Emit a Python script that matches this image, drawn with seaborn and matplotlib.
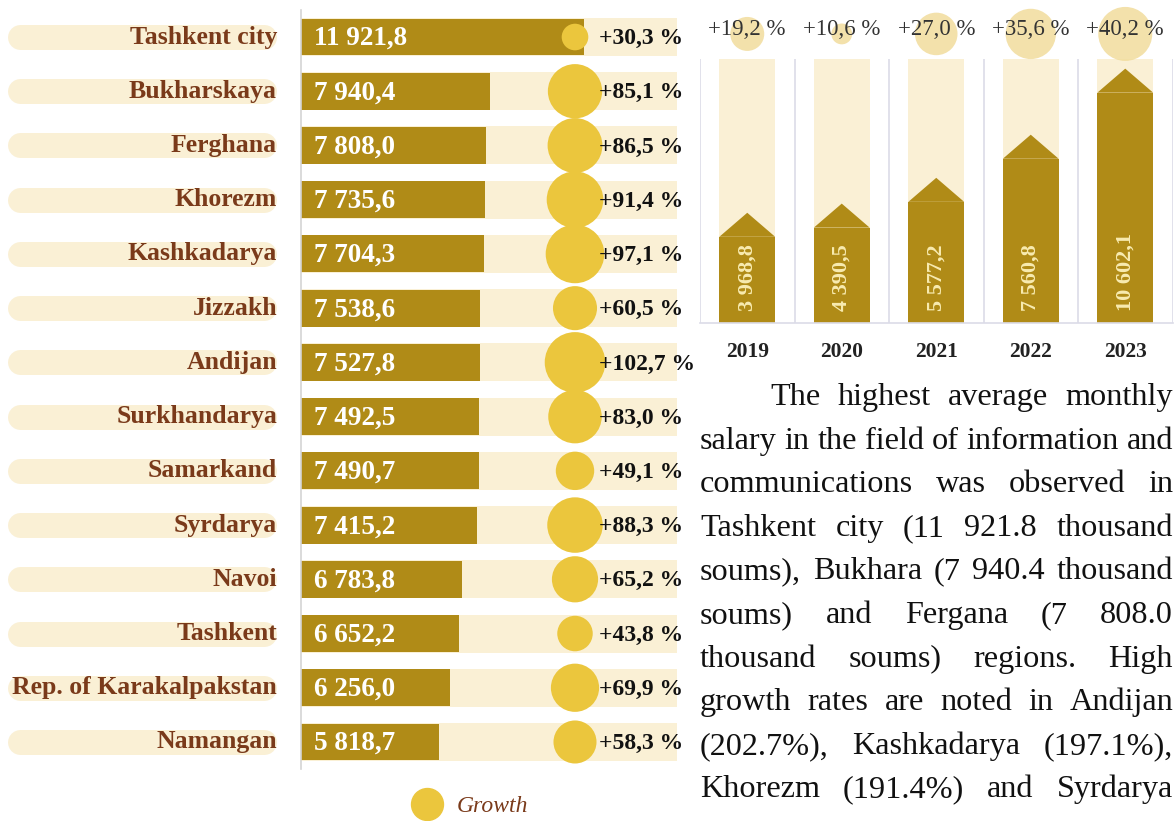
import numpy as np
import matplotlib
matplotlib.use("Agg")
import matplotlib.pyplot as plt
from matplotlib.lines import Line2D
from matplotlib.patches import Polygon
import seaborn as sns

# ---- data -------------------------------------------------------------
regions = ["Tashkent city", "Bukharskaya", "Ferghana", "Khorezm", "Kashkadarya",
           "Jizzakh", "Andijan", "Surkhandarya", "Samarkand", "Syrdarya",
           "Navoi", "Tashkent", "Rep. of Karakalpakstan", "Namangan"]
salary = [11921.8, 7940.4, 7808.0, 7735.6, 7704.3, 7538.6, 7527.8,
          7492.5, 7490.7, 7415.2, 6783.8, 6652.2, 6256.0, 5818.7]
growth = [30.3, 85.1, 86.5, 91.4, 97.1, 60.5, 102.7,
          83.0, 49.1, 88.3, 65.2, 43.8, 69.9, 58.3]

years = ["2019", "2020", "2021", "2022", "2023"]
yearly_salary = [3968.8, 4390.5, 5577.2, 7560.8, 10602.1]
yearly_growth = [19.2, 10.6, 27.0, 35.6, 40.2]

body_lines = [
    "The highest average monthly",
    "salary in the field of information and",
    "communications was observed in",
    "Tashkent city (11 921.8 thousand",
    "soums), Bukhara (7 940.4 thousand",
    "soums) and Fergana (7 808.0",
    "thousand soums) regions. High",
    "growth rates are noted in Andijan",
    "(202.7%), Kashkadarya (197.1%),",
    "Khorezm (191.4%) and Syrdarya",
]

# ---- style ------------------------------------------------------------
sns.set_theme(style="white")
plt.rcParams["font.family"] = ["Liberation Serif", "DejaVu Serif"]

GOLD = "#B08B17"
CREAM = "#FAF0D5"
BUBBLE = "#EBC63D"
BROWN = "#7A3A1A"
GRID = "#DCDCE8"

W, H = 1174, 821
fig = plt.figure(figsize=(W / 100, H / 100), dpi=100)


def px_axes(x0, y0, x1, y1):
    """Axes placed by pixel box (top-left origin)."""
    return fig.add_axes([x0 / W, 1 - y1 / H, (x1 - x0) / W, (y1 - y0) / H])


def fmt_num(v):
    return f"{v:,.1f}".replace(",", " ").replace(".", ",")


def fmt_pct(v):
    return f"+{v:.1f} %".replace(".", ",")


n = len(regions)
row_top, row_bot = 9.9, 769.1
ax_left_px, ax_right_px = 300.5, 700
upp = 41.98                        # salary units per pixel
track = 15800                      # length of the pale track behind each bar

# ---- region labels ----------------------------------------------------
axl = px_axes(0, row_top, 300, row_bot)
axl.set_xlim(0, 300)
axl.set_ylim(n - 0.5, -0.5)
axl.axis("off")
for i, name in enumerate(regions):
    axl.plot([20, 264], [i, i], color=CREAM, lw=18, solid_capstyle="round", zorder=1)
    axl.text(277, i, name, ha="right", va="center", fontsize=18.5,
             fontweight="bold", color=BROWN, zorder=2)

# ---- horizontal bars ----------------------------------------------------
ax = px_axes(ax_left_px, row_top, ax_right_px, row_bot)
sns.barplot(x=[track] * n, y=regions, orient="h", color=CREAM, saturation=1,
            width=0.7, linewidth=0, ax=ax)
sns.barplot(x=salary, y=regions, orient="h", color=GOLD, saturation=1,
            width=0.68, linewidth=0, ax=ax)
sns.scatterplot(x=[(575 - ax_left_px) * upp] * n, y=regions, size=growth,
                sizes=(367, 1900), size_norm=(min(growth), max(growth)),
                color=BUBBLE, linewidth=0, legend=False, ax=ax, zorder=3,
                clip_on=False)
for i, (v, g) in enumerate(zip(salary, growth)):
    ax.text((314 - ax_left_px) * upp, i + 0.03, fmt_num(v), ha="left", va="center",
            fontsize=19.5, fontweight="bold", color="white", zorder=4)
    ax.text((599 - ax_left_px) * upp, i + 0.03, fmt_pct(g), ha="left", va="center",
            fontsize=17, fontweight="bold", color="#111111", zorder=5,
            clip_on=False)
ax.set_xlim(0, (ax_right_px - ax_left_px) * upp)
ax.set_ylim(n - 0.5, -0.5)
ax.set_xticks([])
ax.set_yticks([])
ax.set_xlabel("")
ax.set_ylabel("")
for s in ["top", "right", "bottom"]:
    ax.spines[s].set_visible(False)
ax.spines["left"].set_color("#D4D4D4")
ax.spines["left"].set_linewidth(1.2)

# legend for the bubbles
handle = Line2D([], [], marker="o", ls="", ms=23, color=BUBBLE, mec=BUBBLE)
fig.legend([handle], ["Growth"], loc="center left",
           bbox_to_anchor=(415 / W, 1 - 806 / H), frameon=False,
           borderpad=0, borderaxespad=0, handlelength=1.0, handletextpad=0.78,
           prop={"family": "Liberation Serif", "style": "italic", "size": 17},
           labelcolor=BROWN)

# ---- yearly columns -----------------------------------------------------
ymax = 12150
axr = px_axes(700, 59, 1172.5, 323)
sns.barplot(x=years, y=[ymax] * len(years), color=CREAM, saturation=1,
            width=0.59, linewidth=0, ax=axr, zorder=1)
n_bg = len(axr.patches)
sns.barplot(x=years, y=yearly_salary, color=GOLD, saturation=1,
            width=0.59, linewidth=0, ax=axr, zorder=2)
head = 24 / 264 * ymax
for p in axr.patches[n_bg:]:
    x0, w, h = p.get_x(), p.get_width(), p.get_height()
    axr.add_patch(Polygon([(x0, h), (x0 + w / 2, h + head), (x0 + w, h)],
                          closed=True, color=GOLD, lw=0, zorder=2))
for i, v in enumerate(yearly_salary):
    axr.annotate(fmt_num(v), xy=(i, 0), xytext=(0, 9), textcoords="offset points",
                 rotation=90, ha="center", va="bottom", fontsize=16,
                 fontweight="bold", color="#F8EBB0", zorder=4)

sns.scatterplot(x=years, y=[ymax * 1.095] * len(years), size=yearly_growth,
                sizes=(225, 1512), size_norm=(min(yearly_growth), max(yearly_growth)),
                color="#F1DC9C", alpha=0.85, linewidth=0, legend=False,
                ax=axr, clip_on=False, zorder=3)
for i, g in enumerate(yearly_growth):
    axr.text(i, ymax * 1.11, fmt_pct(g), ha="center", va="center",
             fontsize=16.5, color="#333333", zorder=4, clip_on=False)

for xv in np.arange(-0.5, len(years), 1.0):
    axr.axvline(xv, color=GRID, lw=1.2, zorder=0)
axr.set_xlim(-0.5, len(years) - 0.5)
axr.set_ylim(0, ymax)
axr.set_yticks([])
axr.set_xlabel("")
axr.set_ylabel("")
axr.tick_params(axis="x", length=0, pad=14)
for lab in axr.get_xticklabels():
    lab.set_fontweight("bold")
    lab.set_fontsize(15.5)
    lab.set_color("#222222")
for s in ["top", "right", "left"]:
    axr.spines[s].set_visible(False)
axr.spines["bottom"].set_color(GRID)
axr.spines["bottom"].set_linewidth(1.2)

# ---- justified commentary ----------------------------------------------
fs = 23.2
left_px, right_px, indent_px = 700, 1173, 770
base0, step = 405, 43.6
renderer = fig.canvas.get_renderer()
for k, line in enumerate(body_lines):
    words = line.split(" ")
    x0 = indent_px if k == 0 else left_px
    yb = H - (base0 + k * step)
    texts = [fig.text(0, yb / H, wd, fontsize=fs, color="#111111", va="baseline")
             for wd in words]
    widths = [t.get_window_extent(renderer).width for t in texts]
    gap = (right_px - x0 - sum(widths)) / max(len(words) - 1, 1)
    x = x0
    for t, wdt in zip(texts, widths):
        t.set_x(x / W)
        x += wdt + gap

fig.savefig("out.png", dpi=100)
